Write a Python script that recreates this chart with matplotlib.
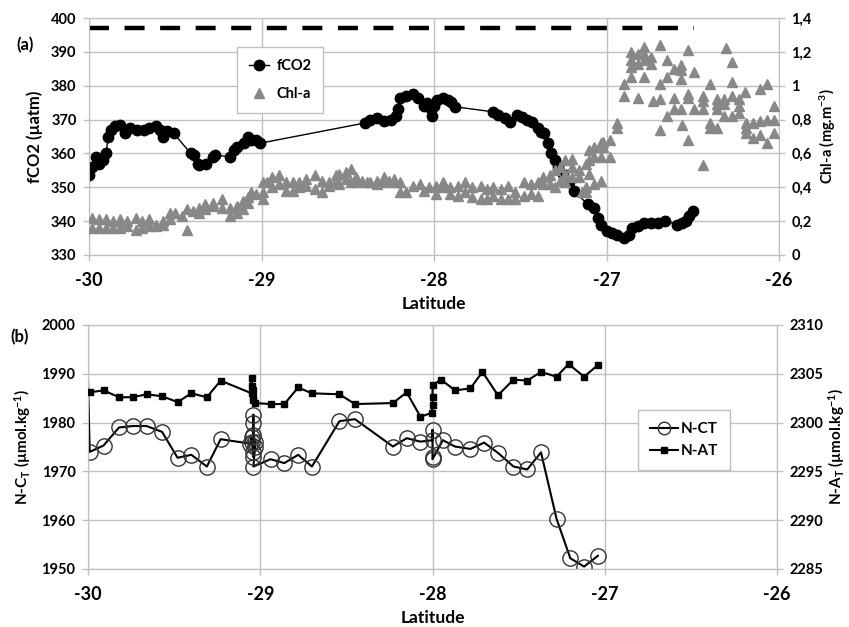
import matplotlib
matplotlib.use("Agg")
import matplotlib.pyplot as plt
from matplotlib.lines import Line2D
from matplotlib.ticker import FuncFormatter

plt.rcParams["font.family"] = ["Lato", "DejaVu Sans"]
plt.rcParams["font.weight"] = "bold"
plt.rcParams["axes.unicode_minus"] = False
plt.rcParams["mathtext.fontset"] = "custom"
plt.rcParams["mathtext.rm"] = "Lato:bold"
plt.rcParams["mathtext.it"] = "Lato:bold"
plt.rcParams["mathtext.bf"] = "Lato:bold"

GRID = "#c0c0c0"
TRI = "#888888"

# ---- panel (a): fCO2 along the track ----
fco2_lat = [-30.0, -29.98, -29.96, -29.94, -29.92, -29.90, -29.89, -29.87, -29.85, -29.82,
            -29.79, -29.76, -29.72, -29.68, -29.65, -29.61, -29.59, -29.57, -29.55, -29.51,
            -29.41, -29.39, -29.37, -29.36, -29.32, -29.28, -29.27, -29.18, -29.16, -29.14,
            -29.10, -29.08, -29.06, -29.03, -29.01, -28.40, -28.37, -28.33, -28.29, -28.25,
            -28.22, -28.21, -28.20, -28.16, -28.12, -28.09, -28.06, -28.04, -28.02, -28.01,
            -28.00, -27.98, -27.95, -27.92, -27.90, -27.88, -27.66, -27.63, -27.59, -27.56,
            -27.52, -27.49, -27.46, -27.43, -27.40, -27.38, -27.36, -27.34, -27.32, -27.30,
            -27.28, -27.25, -27.22, -27.19, -27.11, -27.07, -27.05, -27.03, -27.00, -26.97,
            -26.94, -26.90, -26.87, -26.85, -26.82, -26.78, -26.74, -26.70, -26.66, -26.59,
            -26.56, -26.54, -26.52, -26.50]
fco2 = [353.5, 356, 359, 357, 358, 360, 365, 367, 368, 368.5,
        366, 367.5, 367, 367, 367.5, 368, 367, 365, 366.5, 366,
        360, 359.5, 357, 356.5, 357, 359, 359.5, 359, 361, 362,
        363, 365, 364, 364, 363, 369, 370, 370.5, 369.5, 370,
        371, 373, 376.5, 377, 377.5, 376.5, 374, 375, 373, 371,
        374, 375.8, 376.3, 375.8, 375.3, 373.8, 372.3, 371.4, 370.4, 369.4,
        371.4, 370.9, 369.9, 369.4, 367.5, 366.4, 366, 363, 360, 358,
        356, 354, 351.7, 349, 345, 344, 341, 339, 337, 336.5,
        336, 335, 336, 338, 338.5, 339.5, 339.5, 339.5, 340, 339,
        339.5, 340, 341.5, 343]

# atmospheric reference level (dashed)
atm_lat = [-30.0, -26.49]
atm_fco2 = [397, 397]

# ---- panel (a): Chl-a ----
chl_lat = [
    -29.98, -29.98, -29.94, -29.94, -29.90, -29.90, -29.86, -29.86, -29.82, -29.82,
    -29.78, -29.78, -29.73, -29.73, -29.69, -29.69, -29.65, -29.65, -29.61, -29.61,
    -29.57, -29.57, -29.53, -29.53, -29.50, -29.46, -29.43, -29.43, -29.40, -29.36,
    -29.36, -29.33, -29.33, -29.28, -29.28, -29.23, -29.23, -29.18, -29.18, -29.14,
    -29.14, -29.11, -29.11, -29.08, -29.08, -29.06, -29.03, -28.99, -28.99, -28.99,
    -28.97, -28.94, -28.94, -28.90, -28.90, -28.86, -28.86, -28.82, -28.82, -28.78,
    -28.78, -28.74, -28.74, -28.69, -28.69, -28.65, -28.65, -28.61, -28.61, -28.57,
    -28.57, -28.55, -28.55, -28.51, -28.51, -28.48, -28.48, -28.45, -28.45, -28.42,
    -28.39, -28.37, -28.33, -28.33, -28.29, -28.29, -28.26, -28.23, -28.23, -28.20,
    -28.20, -28.16, -28.12, -28.08, -28.06,
    -28.03, -27.99, -27.99, -27.95, -27.95, -27.91, -27.91, -27.86, -27.86, -27.82,
    -27.82, -27.78, -27.78, -27.73, -27.73, -27.69, -27.69, -27.66, -27.66, -27.61,
    -27.61, -27.57, -27.57, -27.53, -27.53, -27.48, -27.48, -27.44, -27.44, -27.40,
    -27.40, -27.37, -27.37, -27.33, -27.33, -27.30, -27.30, -27.27, -27.27, -27.24,
    -27.24, -27.24, -27.20, -27.20, -27.20, -27.16, -27.16, -27.14, -27.12, -27.12,
    -27.12, -27.10, -27.10, -27.10, -27.07, -27.07, -27.07, -27.03, -27.03, -27.03,
    -27.02, -27.02, -26.98, -26.98, -26.94, -26.94,
    -26.90, -26.90, -26.86, -26.86, -26.86, -26.86, -26.82, -26.82, -26.82, -26.78,
    -26.78, -26.78, -26.78, -26.74, -26.74, -26.73, -26.69, -26.69, -26.69, -26.69,
    -26.65, -26.65, -26.65, -26.61, -26.61, -26.61, -26.57, -26.57, -26.57, -26.57,
    -26.56, -26.53, -26.53, -26.53, -26.53, -26.49, -26.49, -26.44, -26.44, -26.44,
    -26.44, -26.40, -26.40, -26.40, -26.36, -26.36, -26.36, -26.36, -26.32, -26.32,
    -26.32, -26.31, -26.27, -26.27, -26.27, -26.27, -26.23, -26.23, -26.23, -26.20,
    -26.19, -26.19, -26.19, -26.15, -26.15, -26.11, -26.11, -26.11, -26.07, -26.07,
    -26.07, -26.03, -26.03, -26.03]
chl = [
    0.22, 0.16, 0.21, 0.16, 0.21, 0.16, 0.20, 0.16, 0.21, 0.16,
    0.20, 0.17, 0.22, 0.15, 0.20, 0.16, 0.21, 0.17, 0.18, 0.17,
    0.20, 0.18, 0.25, 0.21, 0.25, 0.23, 0.27, 0.15, 0.26, 0.28,
    0.25, 0.30, 0.27, 0.31, 0.29, 0.33, 0.28, 0.28, 0.23, 0.29,
    0.25, 0.32, 0.27, 0.34, 0.31, 0.37, 0.36, 0.43, 0.37, 0.33,
    0.43, 0.46, 0.40, 0.47, 0.42, 0.43, 0.38, 0.43, 0.38, 0.43,
    0.40, 0.45, 0.41, 0.47, 0.39, 0.44, 0.37, 0.43, 0.41, 0.47,
    0.44, 0.48, 0.42, 0.49, 0.45, 0.51, 0.43, 0.46, 0.43, 0.44,
    0.43, 0.43, 0.44, 0.42, 0.46, 0.43, 0.44, 0.45, 0.43, 0.43,
    0.37, 0.37, 0.41, 0.42, 0.38,
    0.40, 0.41, 0.36, 0.43, 0.40, 0.40, 0.36, 0.41, 0.35, 0.43,
    0.37, 0.40, 0.34, 0.41, 0.33, 0.39, 0.33, 0.40, 0.35, 0.39,
    0.33, 0.41, 0.33, 0.37, 0.33, 0.43, 0.35, 0.42, 0.36, 0.43,
    0.35, 0.46, 0.42, 0.47, 0.42, 0.50, 0.40, 0.52, 0.44, 0.56,
    0.48, 0.43, 0.57, 0.52, 0.46, 0.50, 0.46, 0.37, 0.54, 0.40,
    0.37, 0.62, 0.56, 0.48, 0.64, 0.58, 0.42, 0.66, 0.58, 0.44,
    0.67, 0.64, 0.68, 0.58, 0.78, 0.75,
    1.01, 0.94, 1.20, 1.15, 1.11, 1.05, 1.19, 1.13, 0.93, 1.23,
    1.19, 1.15, 1.05, 1.17, 1.13, 0.91, 1.24, 1.01, 0.92, 0.74,
    1.15, 1.05, 0.82, 1.10, 0.93, 0.86, 1.12, 1.09, 1.04, 0.86,
    0.77, 1.21, 0.95, 0.93, 0.68, 1.08, 0.86, 0.94, 0.91, 0.86,
    0.53, 1.01, 0.78, 0.75, 0.92, 0.89, 0.86, 0.75, 0.92, 0.89,
    0.82, 1.22, 1.14, 1.02, 0.94, 0.82, 0.92, 0.88, 0.84, 0.96,
    0.78, 0.75, 0.72, 0.78, 0.69, 0.98, 0.79, 0.71, 1.01, 0.80,
    0.66, 0.88, 0.80, 0.72]

# ---- panel (b): normalised CT (left axis) and AT (right axis) ----
nct_lat = [-30.0, -29.99, -29.91, -29.82, -29.74, -29.66, -29.57, -29.48, -29.40, -29.31,
           -29.23, -29.06, -29.05, -29.05, -29.04, -29.04, -29.04, -29.04, -29.04, -29.03,
           -29.03, -29.04, -28.94, -28.86, -28.78, -28.70, -28.54, -28.45, -28.23, -28.15,
           -28.07, -28.00, -28.00, -28.00, -28.00, -27.94, -27.87, -27.78, -27.70, -27.62,
           -27.53, -27.45, -27.37, -27.28, -27.20, -27.12, -27.04]
nct = [1988.5, 1974.0, 1975.3, 1979.0, 1979.3, 1979.3, 1978.1, 1972.8, 1973.4, 1971.0,
       1976.6, 1975.7, 1977.0, 1976.0, 1974.0, 1973.0, 1981.6, 1979.9, 1977.5, 1976.0,
       1975.0, 1971.0, 1972.5, 1971.7, 1973.4, 1971.0, 1980.3, 1980.7, 1975.1, 1976.8,
       1976.1, 1976.4, 1978.5, 1973.0, 1972.5, 1976.4, 1975.1, 1974.6, 1975.9, 1973.8,
       1971.0, 1970.4, 1973.9, 1960.3, 1952.2, 1950.5, 1952.7]

nat_lat = [-29.99, -29.91, -29.82, -29.74, -29.66, -29.57, -29.48, -29.40, -29.31, -29.23,
           -29.05, -29.05, -29.05, -29.04, -29.04, -29.04, -29.03, -28.94, -28.86, -28.78,
           -28.70, -28.54, -28.45, -28.23, -28.15, -28.07, -28.005, -28.00, -28.00, -28.00,
           -27.95, -27.87, -27.78, -27.71, -27.62, -27.53, -27.45, -27.37, -27.28, -27.21,
           -27.12, -27.04]
nat = [2303.1, 2303.3, 2302.6, 2302.6, 2302.9, 2302.7, 2302.1, 2303.0, 2302.6, 2304.3,
       2303.0, 2304.6, 2303.7, 2303.3, 2302.6, 2302.3, 2302.0, 2301.9, 2301.9, 2303.6,
       2303.0, 2302.9, 2301.9, 2302.0, 2303.1, 2300.6, 2301.0, 2301.8, 2302.6, 2303.85,
       2304.4, 2303.3, 2303.5, 2305.2, 2302.8, 2304.4, 2304.3, 2305.2, 2304.7, 2306.0,
       2304.7, 2305.9]

lat_ticks = [-30, -29, -28, -27, -26]


def comma(v, pos):
    s = f"{v:.1f}".rstrip("0").rstrip(".")
    return s.replace(".", ",")


def style(ax):
    for sp in ax.spines.values():
        sp.set_color(GRID)
    ax.tick_params(axis="both", direction="out", length=4, color=GRID, width=1)
    ax.tick_params(axis="y", labelsize=10.5, pad=5)
    ax.tick_params(axis="x", labelsize=13, pad=8)


fig = plt.figure(figsize=(8.49, 6.27), dpi=100)

# ---------- (a) ----------
ax1 = fig.add_axes([89 / 849, 1 - 255 / 627, 690 / 849, 237 / 627])
ax1.set_xlim(-30, -26)
ax1.set_ylim(330, 400)
ax1.set_xticks(lat_ticks)
ax1.set_yticks(range(330, 401, 10))
ax1.grid(True, color=GRID, lw=1)
ax1.set_axisbelow(True)
ax1.plot(atm_lat, atm_fco2, color="black", lw=3.2, ls=(0, (4.5, 3.5)), zorder=3)
ax1.plot(fco2_lat, fco2, color="black", lw=1, marker="o", ms=7.5, mfc="black",
         mec="black", zorder=4)
ax1.set_ylabel("fCO2 (µatm)", fontsize=12, fontweight="bold", labelpad=6)
ax1.set_xlabel("Latitude", fontsize=12.5, fontweight="bold", labelpad=5)
style(ax1)

ax1r = ax1.twinx()
ax1r.set_ylim(0, 1.4)
ax1r.set_yticks([0, 0.2, 0.4, 0.6, 0.8, 1.0, 1.2, 1.4])
ax1r.yaxis.set_major_formatter(FuncFormatter(comma))
ax1r.plot(chl_lat, chl, ls="none", marker="^", ms=6.5, mfc=TRI, mec=TRI, zorder=5)
ax1r.set_ylabel("Chl-a (mg.m$^{-3}$)", fontsize=10.5, fontweight="bold", labelpad=4)
style(ax1r)

h_a = [Line2D([], [], color="black", lw=1, marker="o", ms=7.5),
       Line2D([], [], ls="none", marker="^", ms=6.5, color=TRI)]
leg = ax1r.legend(h_a, ["fCO2", "Chl-a"], loc="upper left",
                  bbox_to_anchor=((237 - 89) / 690, (255 - 47) / 237), borderaxespad=0,
                  fancybox=False, edgecolor=GRID, framealpha=1, fontsize=10.5,
                  handlelength=1.4, labelspacing=1.0, borderpad=0.8, handletextpad=0.5)
leg.get_frame().set_linewidth(1)

fig.text(25 / 849, 1 - 45 / 627, "(a)", fontsize=12, fontweight="bold",
         ha="center", va="center")

# ---------- (b) ----------
ax2 = fig.add_axes([88 / 849, 1 - 569 / 627, 689 / 849, 244 / 627])
ax2.set_xlim(-30, -26)
ax2.set_ylim(1950, 2000)
ax2.set_xticks(lat_ticks)
ax2.set_yticks(range(1950, 2001, 10))
ax2.grid(True, color=GRID, lw=1)
ax2.set_axisbelow(True)
ax2.plot(nct_lat, nct, color="black", lw=1.5, marker="o", ms=11, mfc="none",
         mec="#333333", mew=1, markevery=list(range(1, len(nct))), zorder=3)
ax2.set_ylabel("N-C$_T$ (µmol.kg$^{-1}$)", fontsize=11, fontweight="bold", labelpad=6)
ax2.set_xlabel("Latitude", fontsize=12.5, fontweight="bold", labelpad=5)
style(ax2)

ax2r = ax2.twinx()
ax2r.set_ylim(2285, 2310)
ax2r.set_yticks(range(2285, 2311, 5))
ax2r.plot(nat_lat, nat, color="black", lw=1.5, marker="s", ms=5, mfc="black",
          mec="black", zorder=4)
ax2r.set_ylabel("N-A$_T$ (µmol.kg$^{-1}$)", fontsize=11, fontweight="bold", labelpad=2)
style(ax2r)

h_b = [Line2D([], [], color="black", lw=1.5, marker="o", ms=9, mfc="none", mec="#333333"),
       Line2D([], [], color="black", lw=1.5, marker="s", ms=5)]
leg2 = ax2r.legend(h_b, ["N-CT", "N-AT"], loc="upper left",
                   bbox_to_anchor=((638 - 88) / 689, (569 - 410) / 244), borderaxespad=0,
                   fancybox=False, edgecolor=GRID, framealpha=1, fontsize=11,
                   handlelength=1.8, labelspacing=0.5, borderpad=0.8, handletextpad=0.2)
leg2.get_frame().set_linewidth(1)

fig.text(20 / 849, 1 - 337 / 627, "(b)", fontsize=12, fontweight="bold",
         ha="center", va="center")

fig.savefig("out.png", dpi=100)
